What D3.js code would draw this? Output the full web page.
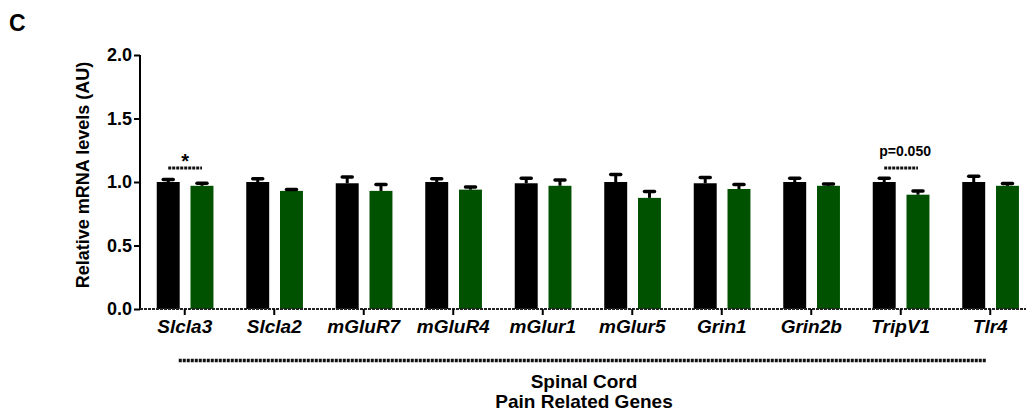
<!DOCTYPE html>
<html>
<head>
<meta charset="utf-8">
<script src="https://cdn.jsdelivr.net/npm/d3@7"></script>
<style>
  body { margin: 0; background: #fff; }
  text { font-family: "Liberation Sans", Arial, sans-serif; font-weight: bold; fill: #000; }
</style>
</head>
<body>
<svg width="1026" height="420"></svg>
<script>
// data
var genes = ["Slcla3", "Slcla2", "mGluR7", "mGluR4", "mGlur1", "mGlur5", "Grin1", "Grin2b", "TripV1", "Tlr4"];
var groups = ["control", "treated"];
var controlMean = [1.00, 1.00, 0.99, 1.00, 0.99, 1.00, 0.99, 1.00, 1.00, 1.00];
var controlSem  = [0.02, 0.025, 0.05, 0.025, 0.04, 0.06, 0.045, 0.03, 0.03, 0.045];
var treatedMean = [0.97, 0.93, 0.93, 0.94, 0.97, 0.875, 0.945, 0.97, 0.90, 0.97];
var treatedSem  = [0.02, 0.01, 0.05, 0.02, 0.045, 0.05, 0.035, 0.015, 0.03, 0.018];
var yTicks = [0, 0.5, 1.0, 1.5, 2.0];
var sigGenes = ["Slcla3", "TripV1"];
var sigLabels = ["*", "p=0.050"];
var sigLevel = 1.11;
var colors = {control: "#000000", treated: "#005200"};

var svg = d3.select("svg"),
    margin = {top: 55, left: 140},
    x0 = d3.scaleBand().domain(genes).range([margin.left, margin.left + 895]),
    x1 = d3.scaleBand().domain(groups).range([-28, 28.7]).paddingInner(0.32),
    y = d3.scaleLinear().domain([0, 2]).range([309, margin.top]);

var rows = [];
genes.forEach(function(g, i) {
  rows.push({gene: g, group: "control", mean: controlMean[i], sem: controlSem[i]});
  rows.push({gene: g, group: "treated", mean: treatedMean[i], sem: treatedSem[i]});
});

function cx(g) { return x0(g) + x0.bandwidth() / 2; }

// panel letter
svg.append("text").attr("x", 9).attr("y", 31).style("font-size", "23px").text("C");

// bars
svg.append("g").selectAll("rect").data(rows).enter().append("rect")
  .attr("x", function(d) { return cx(d.gene) + x1(d.group); })
  .attr("width", x1.bandwidth())
  .attr("y", function(d) { return y(d.mean); })
  .attr("height", function(d) { return y(0) - y(d.mean); })
  .attr("fill", function(d) { return colors[d.group]; });

// error bars (upper only)
var eb = svg.append("g").selectAll("g").data(rows).enter().append("g")
  .attr("transform", function(d) { return "translate(" + (cx(d.gene) + x1(d.group) + x1.bandwidth() / 2) + ",0)"; });
eb.append("line")
  .attr("y1", function(d) { return y(d.mean); })
  .attr("y2", function(d) { return y(d.mean + d.sem); })
  .attr("stroke", "#000").attr("stroke-width", 3);
eb.append("line")
  .attr("x1", -5).attr("x2", 5)
  .attr("y1", function(d) { return y(d.mean + d.sem); })
  .attr("y2", function(d) { return y(d.mean + d.sem); })
  .attr("stroke", "#000").attr("stroke-width", 3.5).attr("stroke-linecap", "round");

// y axis
var yAxis = svg.append("g")
  .attr("transform", "translate(" + margin.left + ",0)")
  .call(d3.axisLeft(y).tickValues(yTicks).tickFormat(d3.format(".1f")).tickSize(6).tickPadding(2));
yAxis.select(".domain").attr("stroke-width", 2).attr("d", "M0," + y(2) + "V" + y(0));
yAxis.selectAll(".tick line").attr("stroke-width", 2);
yAxis.selectAll("text").style("font-size", "18px").style("font-family", "Liberation Sans, Arial, sans-serif").style("font-weight", "bold");

// x axis
var xAxis = svg.append("g")
  .attr("transform", "translate(0," + y(0) + ")")
  .call(d3.axisBottom(x0).tickSize(6).tickPadding(5));
xAxis.select(".domain").attr("stroke", "#222").attr("stroke-width", 2).attr("stroke-dasharray", "3,1")
  .attr("d", "M" + margin.left + ",0H1035");
xAxis.selectAll(".tick line").attr("stroke-width", 2);
xAxis.selectAll("text").style("font-size", "19px").style("font-style", "italic")
  .style("font-family", "Liberation Sans, Arial, sans-serif").style("font-weight", "bold");

// significance markers
sigGenes.forEach(function(g, i) {
  var xa = cx(g) + x1("control") + x1.bandwidth() / 2,
      xb = cx(g) + x1("treated") + x1.bandwidth() / 2;
  svg.append("line")
    .attr("x1", xa).attr("x2", xb).attr("y1", y(sigLevel)).attr("y2", y(sigLevel))
    .attr("stroke", "#111").attr("stroke-width", 3).attr("stroke-dasharray", "3,1");
  var isStar = sigLabels[i] === "*";
  svg.append("text")
    .attr("x", (xa + xb) / 2 + (isStar ? 0 : 4))
    .attr("y", y(sigLevel) - (isStar ? 0 : 12))
    .attr("text-anchor", "middle")
    .style("font-size", isStar ? "20px" : "14px")
    .text(sigLabels[i]);
});

// group bracket
svg.append("line")
  .attr("x1", cx(genes[0]) - 6).attr("x2", cx(genes[genes.length - 1]) - 4)
  .attr("y1", 360.5).attr("y2", 360.5)
  .attr("stroke", "#111").attr("stroke-width", 3.5).attr("stroke-dasharray", "3,1");

svg.append("text").attr("x", 584).attr("y", 388).attr("text-anchor", "middle")
  .style("font-size", "19px").text("Spinal Cord");
svg.append("text").attr("x", 584).attr("y", 408).attr("text-anchor", "middle")
  .style("font-size", "19px").text("Pain Related Genes");

// y title
svg.append("text")
  .attr("transform", "translate(89,175) rotate(-90)")
  .attr("text-anchor", "middle")
  .style("font-size", "18px")
  .text("Relative mRNA levels (AU)");
</script>
</body>
</html>
